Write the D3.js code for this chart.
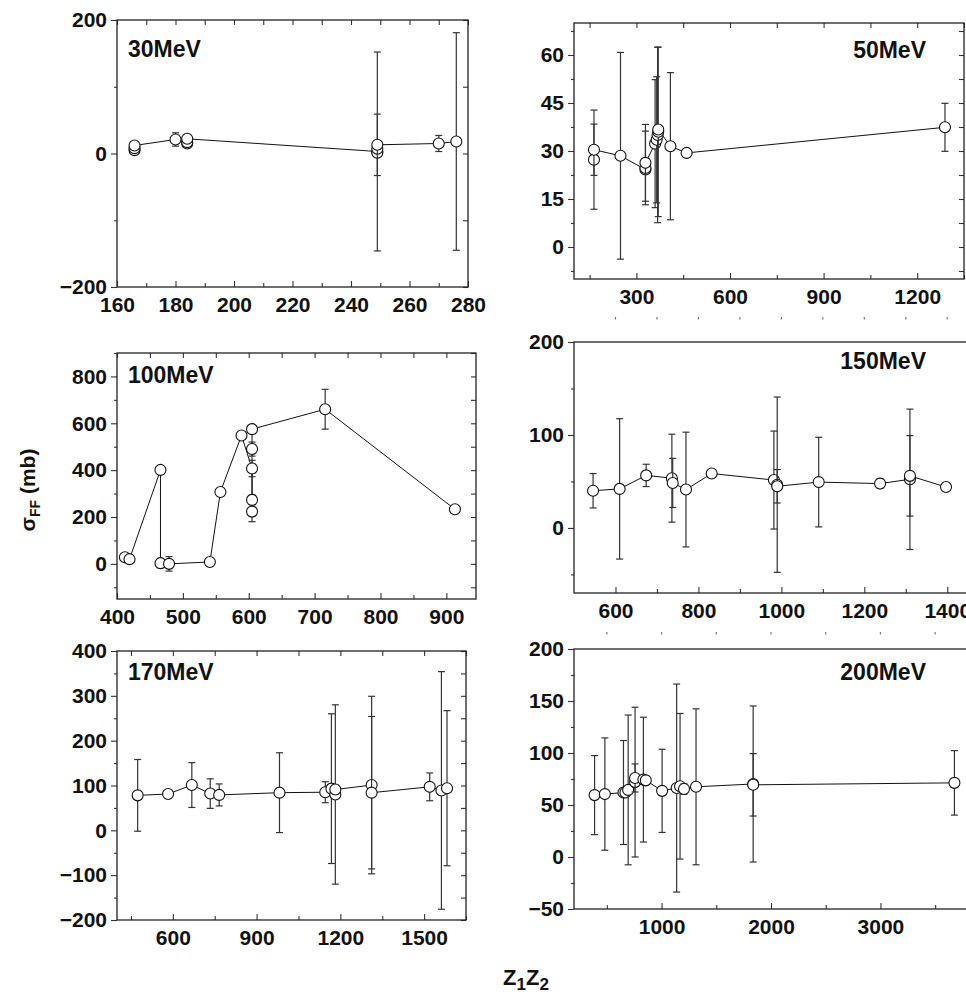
<!DOCTYPE html>
<html>
<head>
<meta charset="utf-8">
<script src="https://cdn.jsdelivr.net/npm/d3@7"></script>
<style>
  body { margin: 0; background: #fff; }
  svg { display: block; font-family: "Liberation Sans", Arial, sans-serif; }
  .tick text { font-size: 21px; font-weight: bold; fill: #111; }
  .tick line { stroke: #333; stroke-width: 1.1; }
</style>
</head>
<body>
<svg id="chart" width="966" height="995"></svg>
<script>
// Z1Z2 (x), sigma_FF in mb (y), symmetric error (0 = none)
var z30 = [166, 166, 166, 180, 184, 184, 184, 249, 249, 249, 249, 270, 276];
var s30 = [5, 8, 12, 21, 15, 17, 22, 3, 1, 7, 13, 15, 18];
var e30 = [3, 3, 4, 10, 4, 5, 6, 149, 0, 0, 46, 12, 163];

var z50 = [164, 164, 249, 329, 329, 329, 360, 365, 368, 370, 370, 409, 461, 1289];
var s50 = [27.3, 30.4, 28.5, 24.2, 24.7, 26.3, 32.3, 33.5, 35, 36, 36.7, 31.5, 29.4, 37.4];
var e50 = [15.5, 8, 32.3, 0, 11.5, 12, 20, 19.7, 27.4, 26.5, 0, 23, 0, 7.5];

var z100 = [412, 419, 466, 466, 479, 541, 557, 589, 605, 605, 605, 605, 605, 716, 913];
var s100 = [28, 20, 401, 3, 0, 8, 307, 548, 407, 223, 273, 490, 575, 660, 233];
var e100 = [0, 17, 8, 20, 31, 10, 0, 10, 35, 43, 20, 30, 8, 85, 8];

var z150 = [546, 610, 674, 736, 738, 770, 832, 982, 990, 990, 1090, 1238, 1310, 1310, 1397];
var s150 = [40, 42, 56.5, 53.5, 48.4, 41.3, 58.5, 51.5, 46.5, 44.8, 49.3, 47.7, 52.3, 56, 44];
var e150 = [18.5, 75.5, 12, 47.3, 26.4, 61.7, 4, 52.7, 94.3, 18, 48.2, 5, 75.5, 43.3, 0];

var z170 = [474, 583, 668, 734, 766, 982, 1146, 1168, 1182, 1182, 1312, 1312, 1520, 1562, 1582];
var s170 = [78, 81, 101, 82, 79, 84, 85, 93, 80, 91, 101, 84, 97, 89, 94];
var e170 = [80, 5, 50, 33, 24.5, 89, 23.4, 167, 200, 10, 198, 170, 31, 265, 173];

var z200 = [388, 482, 652, 670, 695, 758, 758, 834, 856, 1005, 1138, 1169, 1205, 1315, 1837, 1837, 3676];
var s200 = [59.5, 60.5, 62, 62, 64.5, 72, 76, 74.4, 73.7, 63.6, 66.3, 68, 65.4, 67.5, 70.2, 69.4, 71.3];
var e200 = [38, 54, 50, 0, 72, 72, 13.5, 60, 4, 40, 100, 70, 5, 75, 75, 30, 31];

var panels = [
  { title: "30MeV", z: z30, s: s30, e: e30, x0: 117, x1: 468, y0: 20, y1: 287,
    xd: [160, 280], yd: [-200, 200], xMaj: d3.range(160, 281, 20), xMin: d3.range(170, 280, 20),
    yMaj: [-200, 0, 200], yMin: [-100, 100], tx: 128, ty: 57, anchor: "start", mirror: true },
  { title: "50MeV", z: z50, s: s50, e: e50, x0: 574, x1: 964, y0: 23, y1: 279,
    xd: [100, 1350], yd: [-10, 70], xMaj: [300, 600, 900, 1200], xMin: [150, 450, 750, 1050, 1350],
    yMaj: [0, 15, 30, 45, 60], yMin: [-7.5, 7.5, 22.5, 37.5, 52.5, 67.5], tx: 926, ty: 58, anchor: "end", mirror: true },
  { title: "100MeV", z: z100, s: s100, e: e100, x0: 117, x1: 476, y0: 353, y1: 599,
    xd: [400, 945], yd: [-150, 900], xMaj: d3.range(400, 901, 100), xMin: d3.range(450, 945, 100),
    yMaj: d3.range(0, 801, 200), yMin: d3.range(-100, 901, 200), tx: 128, ty: 383, anchor: "start", mirror: true },
  { title: "150MeV", z: z150, s: s150, e: e150, x0: 574, x1: 968, y0: 342, y1: 593,
    xd: [500, 1450], yd: [-70, 200], xMaj: d3.range(600, 1401, 200), xMin: d3.range(700, 1400, 200),
    yMaj: [0, 100, 200], yMin: [-50, 50, 150], tx: 926, ty: 369, anchor: "end", mirror: false,
    stray: { y: 318, ticks: d3.range(600, 1401, 100) } },
  { title: "170MeV", z: z170, s: s170, e: e170, x0: 117, x1: 466, y0: 651, y1: 920,
    xd: [400, 1650], yd: [-200, 400], xMaj: [600, 900, 1200, 1500], xMin: [450, 750, 1050, 1350, 1650],
    yMaj: d3.range(-200, 401, 100), yMin: d3.range(-150, 400, 100), tx: 128, ty: 680, anchor: "start", mirror: true },
  { title: "200MeV", z: z200, s: s200, e: e200, x0: 574, x1: 968, y0: 649, y1: 909,
    xd: [200, 3800], yd: [-50, 200], xMaj: [1000, 2000, 3000], xMin: [500, 1500, 2500, 3500],
    yMaj: d3.range(-50, 201, 50), yMin: d3.range(-25, 200, 50), tx: 926, ty: 680, anchor: "end", mirror: false,
    stray: { y: 633, ticks: d3.range(500, 3501, 500) } }
];

var svg = d3.select("#chart");

panels.forEach(function(p) {
  var w = p.x1 - p.x0, h = p.y1 - p.y0;
  var x = d3.scaleLinear().domain(p.xd).range([0, w]);
  var y = d3.scaleLinear().domain(p.yd).range([h, 0]);
  var g = svg.append("g").attr("transform", "translate(" + p.x0 + "," + p.y0 + ")");

  // axes: left ticks outward, bottom ticks inward
  g.append("g").call(d3.axisLeft(y).tickValues(p.yMaj).tickSizeInner(6).tickSizeOuter(0).tickPadding(4).tickFormat(d3.format("d")))
    .call(a => a.select(".domain").remove());
  g.append("g").call(d3.axisLeft(y).tickValues(p.yMin).tickSizeInner(3).tickSizeOuter(0).tickFormat(""))
    .call(a => a.select(".domain").remove());
  g.append("g").attr("transform", "translate(0," + h + ")")
    .call(d3.axisBottom(x).tickValues(p.xMaj).tickSizeInner(-6).tickSizeOuter(0).tickPadding(10).tickFormat(d3.format("d")))
    .call(a => a.select(".domain").remove());
  g.append("g").attr("transform", "translate(0," + h + ")")
    .call(d3.axisBottom(x).tickValues(p.xMin).tickSizeInner(-4).tickSizeOuter(0).tickFormat(""))
    .call(a => a.select(".domain").remove());

  if (p.mirror) {
    g.append("g").call(d3.axisTop(x).tickValues(p.xMaj.concat(p.xMin)).tickSizeInner(-5).tickSizeOuter(0).tickFormat(""))
      .call(a => a.select(".domain").remove());
    g.append("g").attr("transform", "translate(" + w + ",0)")
      .call(d3.axisRight(y).tickValues(p.yMaj.concat(p.yMin)).tickSizeInner(-5).tickSizeOuter(0).tickFormat(""))
      .call(a => a.select(".domain").remove());
  }

  // frame
  g.append("rect").attr("width", w).attr("height", h)
    .attr("fill", "none").attr("stroke", "#222").attr("stroke-width", 1.3);

  // stray tick marks printed above some panels
  if (p.stray) {
    svg.append("g").selectAll("line").data(p.stray.ticks).enter().append("line")
      .attr("x1", d => p.x0 + x(d)).attr("x2", d => p.x0 + x(d))
      .attr("y1", p.stray.y - 1).attr("y2", p.stray.y + 1.5)
      .attr("stroke", "#777").attr("stroke-width", 1.2);
  }

  var pts = p.z.map(function(d, i) { return { z: d, s: p.s[i], e: p.e[i] }; });

  // connecting line
  g.append("path").datum(pts)
    .attr("fill", "none").attr("stroke", "#111").attr("stroke-width", 1)
    .attr("d", d3.line().x(d => x(d.z)).y(d => y(d.s)));

  // each point: error bar then circle
  pts.forEach(function(d) {
    var pg = g.append("g");
    if (d.e > 0) {
      var cx = x(d.z), ya = y(d.s + d.e), yb = y(d.s - d.e);
      pg.append("line").attr("x1", cx).attr("x2", cx).attr("y1", ya).attr("y2", yb)
        .attr("stroke", "#333").attr("stroke-width", 1.2);
      [ya, yb].forEach(function(yy) {
        pg.append("line").attr("x1", cx - 3.5).attr("x2", cx + 3.5).attr("y1", yy).attr("y2", yy)
          .attr("stroke", "#333").attr("stroke-width", 1.2);
      });
    }
    pg.append("circle").attr("cx", x(d.z)).attr("cy", y(d.s)).attr("r", 5.5)
      .attr("fill", "#fff").attr("stroke", "#111").attr("stroke-width", 1.1);
  });

  svg.append("text").attr("x", p.tx).attr("y", p.ty).attr("text-anchor", p.anchor)
    .attr("font-size", 23).attr("font-weight", "bold").attr("fill", "#111").text(p.title);
});

// axis titles
var yl = svg.append("text").attr("transform", "translate(35,490) rotate(-90)")
  .attr("text-anchor", "middle").attr("font-size", 21).attr("font-weight", "bold").attr("fill", "#111");
yl.append("tspan").text("σ");
yl.append("tspan").attr("font-size", 14).attr("dy", 5).text("FF");
yl.append("tspan").attr("dy", -5).text(" (mb)");

var xl = svg.append("text").attr("x", 503).attr("y", 985)
  .attr("font-size", 22).attr("font-weight", "bold").attr("fill", "#111");
xl.append("tspan").text("Z");
xl.append("tspan").attr("font-size", 17).attr("dy", 5).text("1");
xl.append("tspan").attr("dy", -5).text("Z");
xl.append("tspan").attr("font-size", 17).attr("dy", 5).text("2");
</script>
</body>
</html>
